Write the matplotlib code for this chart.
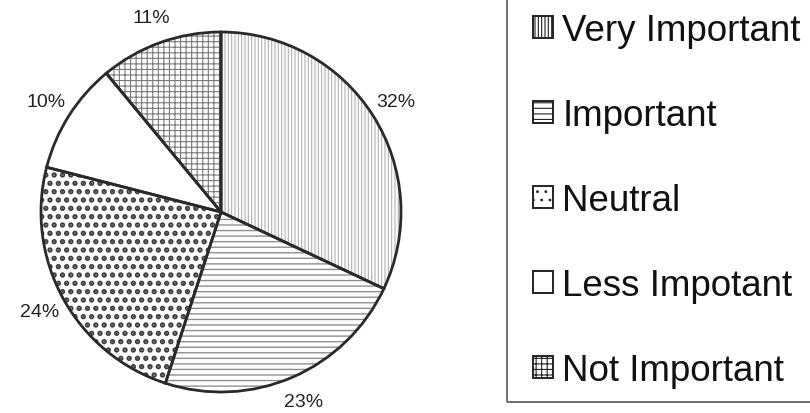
import matplotlib
matplotlib.use("Agg")
import matplotlib.pyplot as plt
from matplotlib.patches import Patch, Rectangle

# data
categories = ["Very Important", "Important", "Neutral", "Less Impotant", "Not Important"]
shares = [32, 23, 24, 10, 11]
hatches = ["|||||", "---", "..", "", "+++"]
hatch_colors = ["#b0b0b0", "#8e8e8e", "#3c3c3c", "white", "#7a7a7a"]
hatch_widths = [0.8, 1.0, 2.6, 0.8, 0.8]

plt.rcParams["font.family"] = ["Liberation Sans", "DejaVu Sans"]
plt.rcParams["hatch.linewidth"] = 0.8

fig = plt.figure(figsize=(8.1, 4.14), dpi=100)
ax = fig.add_axes([41 / 810, 21 / 414, 360 / 810, 360 / 414])

# hatched fill first (hatch takes the edge colour), then dark outlines on top
wedges, _ = ax.pie(shares, startangle=90, counterclock=False, radius=1,
                   colors=["white"] * len(shares),
                   wedgeprops=dict(linewidth=0))
for w, h, c, hw in zip(wedges, hatches, hatch_colors, hatch_widths):
    w.set_hatch(h)
    w.set_edgecolor(c)
    if hasattr(w, "set_hatch_linewidth"):
        w.set_hatch_linewidth(hw)

outline, _, pct = ax.pie(shares, startangle=90, counterclock=False, radius=1,
                         colors=["none"] * len(shares),
                         wedgeprops=dict(linewidth=2.0, edgecolor="#2a2a2a", fill=False),
                         autopct="%d%%", pctdistance=1.15,
                         textprops=dict(fontsize=14, color="#222222"))
ax.set_xlim(-1, 1)
ax.set_ylim(-1, 1)
ax.set_aspect("equal")
ax.axis("off")

# legend box runs off the top and right of the picture
fig.add_artist(Rectangle((507 / 810, 11 / 414), 0.5, 1.0, transform=fig.transFigure,
                         facecolor="none", edgecolor="#555555", linewidth=1.2))

handles = [Patch(facecolor="white", edgecolor="#222222", hatch=h, linewidth=1.4)
           for h in hatches]
fig.legend(handles, categories, loc="upper left", bbox_to_anchor=(533 / 810, 1 - 14 / 414),
           frameon=False, fontsize=26.5, borderpad=0, borderaxespad=0,
           handlelength=0.55, handleheight=0.55, handletextpad=0.25, labelspacing=1.36,
           labelcolor="#111111")

fig.savefig("out.png", dpi=100)
